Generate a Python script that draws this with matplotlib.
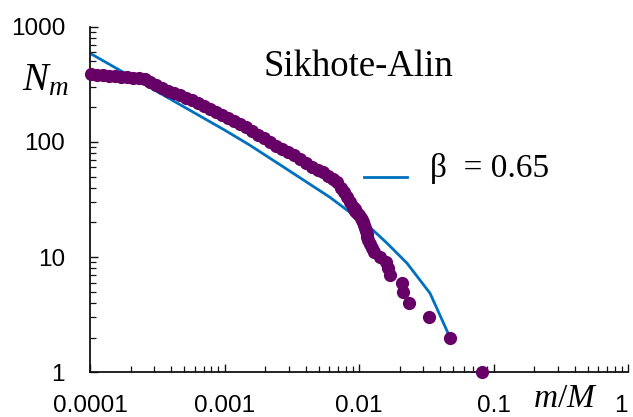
import matplotlib
matplotlib.use("Agg")
import matplotlib.pyplot as plt
from matplotlib.ticker import LogLocator, NullFormatter

plt.rcParams['mathtext.fontset'] = 'custom'
plt.rcParams['mathtext.it'] = 'Liberation Serif:italic'
plt.rcParams['mathtext.rm'] = 'Liberation Serif'

# measured fragments, rank-ordered: mass fraction m/M and count N_m
frag_m = [1.017e-4, 1.127e-4, 1.249e-4, 1.385e-4, 1.534e-4, 1.700e-4, 1.884e-4,
          2.088e-4, 2.313e-4, 2.564e-4, 2.793e-4, 3.095e-4, 3.430e-4, 3.801e-4,
          4.212e-4, 4.667e-4, 5.173e-4, 5.732e-4, 6.353e-4, 7.040e-4, 7.802e-4,
          8.646e-4, 9.581e-4, 1.062e-3, 1.177e-3, 1.304e-3, 1.445e-3, 1.601e-3,
          1.775e-3, 1.967e-3, 2.180e-3, 2.415e-3, 2.676e-3, 2.966e-3, 3.287e-3,
          3.642e-3, 4.036e-3, 4.474e-3, 4.958e-3, 5.400e-3, 5.882e-3, 6.406e-3,
          6.861e-3, 7.347e-3, 7.734e-3, 8.142e-3, 8.571e-3,
          9.02e-3, 9.26e-3, 9.34e-3, 9.66e-3, 1.000e-2, 1.035e-2, 1.053e-2,
          1.071e-2, 1.090e-2, 1.108e-2, 1.127e-2, 1.137e-2, 1.147e-2, 1.167e-2,
          1.207e-2, 1.249e-2, 1.293e-2, 1.433e-2, 1.587e-2, 1.643e-2, 1.700e-2,
          2.088e-2, 2.124e-2, 2.353e-2, 3.315e-2, 4.749e-2, 8.21e-2]
frag_n = [386, 382, 379, 375, 371, 367, 364, 360, 357, 349, 331, 310, 292, 278,
          264, 254, 241, 230, 219, 206, 194, 183, 172, 162, 152, 144, 134, 124,
          115, 108, 99, 93, 87, 82, 77, 71, 65, 61, 57, 55, 51, 48, 45, 40, 37,
          33, 30,
          27, 26, 25, 24, 23, 22, 21, 20, 19, 18, 17, 16, 15, 14, 13, 12, 11,
          10, 9, 8, 7, 6, 5, 4, 3, 2, 1]

# model curve, beta = 0.65
model_m = [1.0e-4, 1.009e-3, 1.548e-3, 3.069e-3, 6.087e-3, 1.207e-2,
           1.615e-2, 2.275e-2, 3.373e-2, 4.749e-2]
model_n = [588, 126, 93.4, 55.6, 33.0, 18.1, 13.2, 8.84, 4.85, 2.0]

xticks = [1e-4, 1e-3, 1e-2, 1e-1, 1]
xtick_labels = ['0.0001', '0.001', '0.01', '0.1', '1']
yticks = [1, 10, 100, 1000]
ytick_labels = ['1', '10', '100', '1000']

purple = '#660066'
blue = '#0070C0'

fig = plt.figure(figsize=(6.33, 4.17), dpi=100)
ax = fig.add_axes([0.1422, 0.1072, 0.850, 0.8288])

ax.plot(model_m, model_n, color=blue, lw=2.0, zorder=2)
ax.plot(frag_m, frag_n, 'o', color=purple, ms=9.5, mec='none', zorder=3, clip_on=False)

ax.set_xscale('log')
ax.set_yscale('log')
ax.set_xlim(1e-4, 1)
ax.set_ylim(1, 1000)

ax.set_xticks(xticks, labels=xtick_labels)
ax.set_yticks(yticks, labels=ytick_labels)
ax.xaxis.set_minor_locator(LogLocator(base=10, subs=range(2, 10), numticks=20))
ax.yaxis.set_minor_locator(LogLocator(base=10, subs=range(2, 10), numticks=20))
ax.xaxis.set_minor_formatter(NullFormatter())
ax.yaxis.set_minor_formatter(NullFormatter())

for lab in ax.get_xticklabels() + ax.get_yticklabels():
    lab.set_fontfamily('Liberation Sans')
# last x label sits at the figure edge in the original
ax.get_xticklabels()[-1].set_horizontalalignment('right')

ax.tick_params(which='major', direction='in', length=5.5, width=1.0, labelsize=17.5, color='#111111')
ax.tick_params(which='minor', direction='in', length=4, width=0.9, color='#111111')
ax.tick_params(axis='y', pad=18)
ax.tick_params(axis='x', pad=16)

for s in ['top', 'right']:
    ax.spines[s].set_visible(False)
for s in ['left', 'bottom']:
    ax.spines[s].set_linewidth(1.3)
    ax.spines[s].set_color('#111111')

ax.text(0.3216, 0.857, 'Sikhote-Alin', transform=ax.transAxes, fontsize=26.5,
        family='Liberation Serif', va='baseline', ha='left')
ax.plot([0.509, 0.589], [0.565, 0.565], color=blue, lw=2.0, transform=ax.transAxes)
ax.text(0.632, 0.565, 'β  = 0.65', transform=ax.transAxes, fontsize=24,
        family='Liberation Serif', va='baseline', ha='left')

fig.text(0.035, 0.784, r'$N_m$', fontsize=28, va='baseline', ha='left')
fig.text(0.893, 0.024, r'$m/M$', fontsize=24, va='baseline', ha='center')

fig.savefig('out.png', dpi=100)
